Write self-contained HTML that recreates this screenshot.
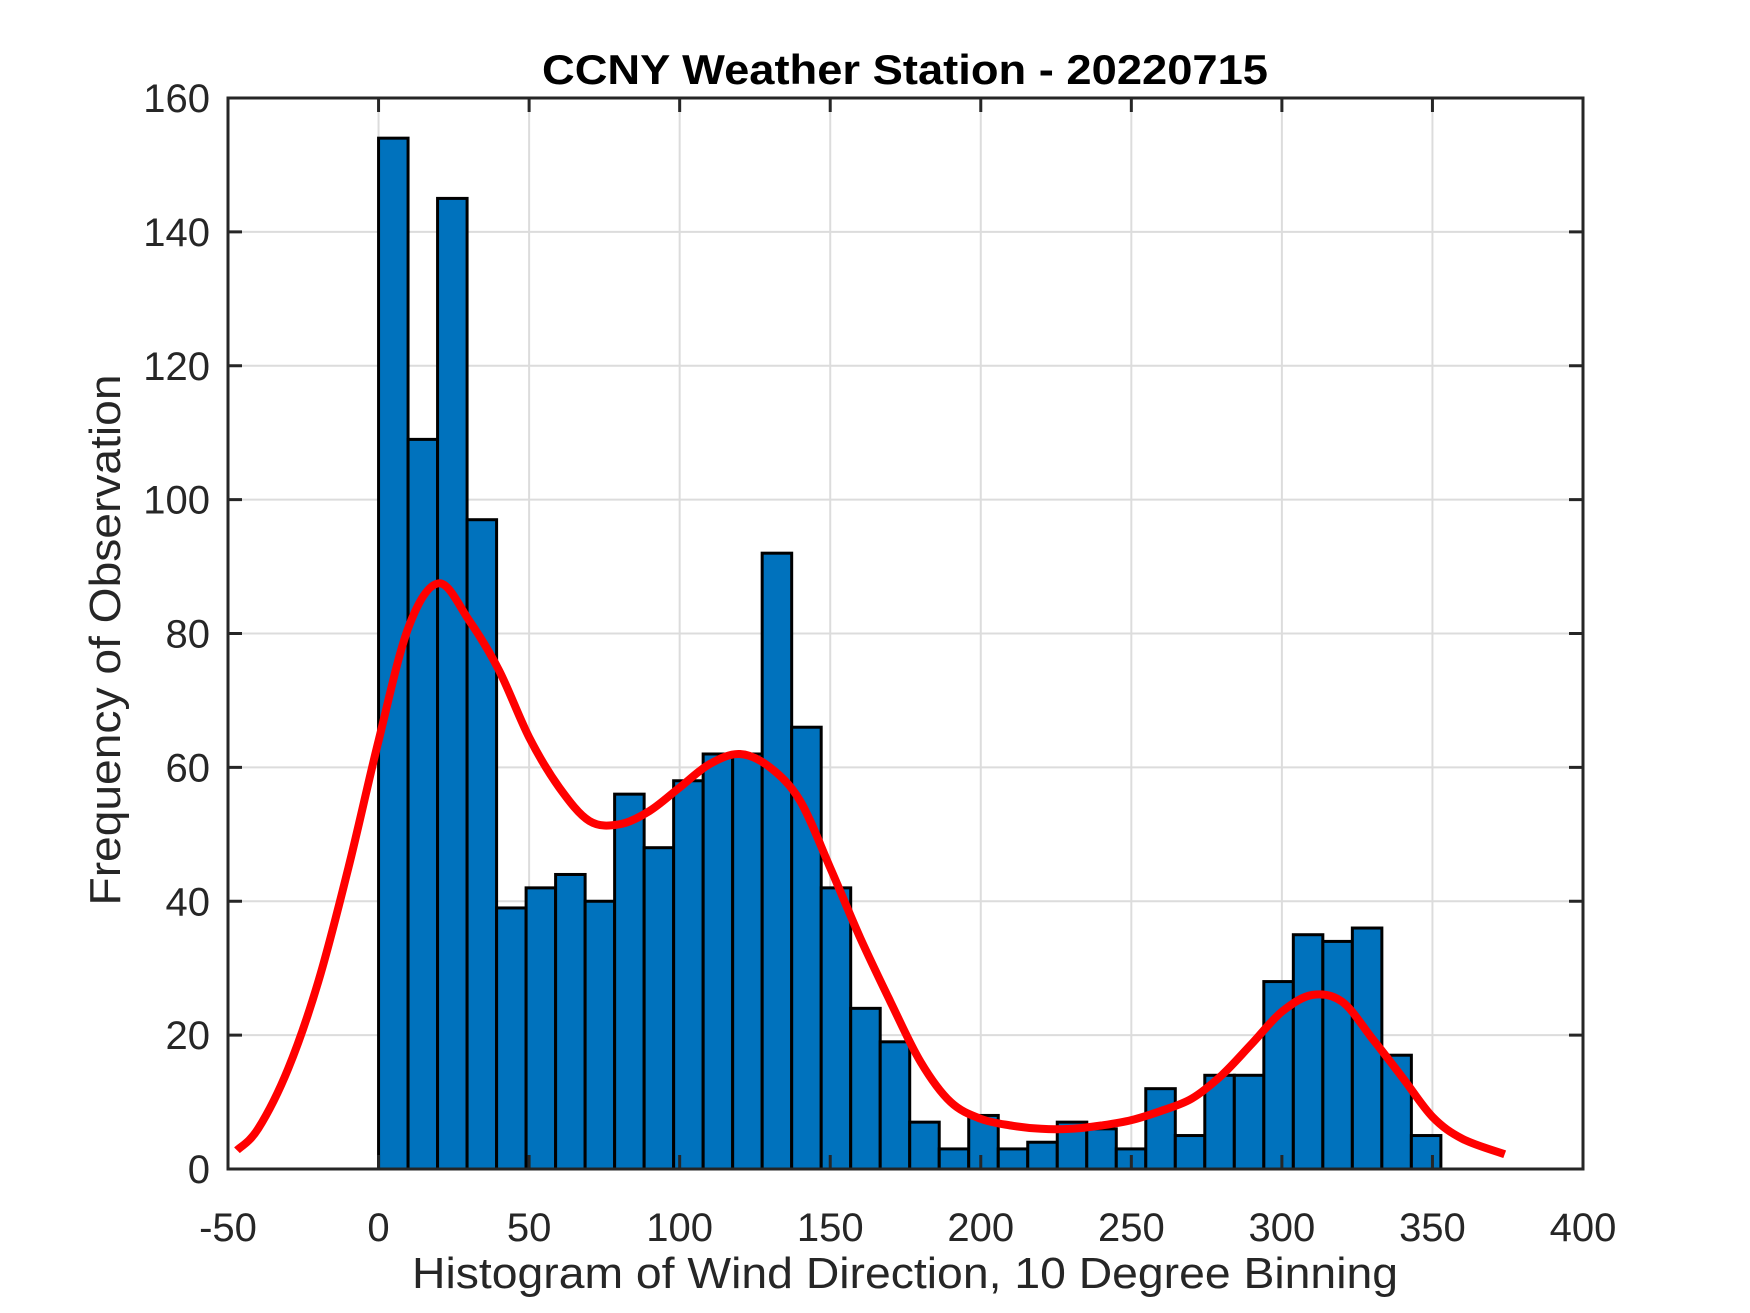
<!DOCTYPE html>
<html><head><meta charset="utf-8"><style>
html,body{margin:0;padding:0;background:#fff;}
svg{display:block;font-family:"Liberation Sans",Arial,sans-serif;}
</style></head><body>
<svg id="chart" width="1750" height="1313" viewBox="0 0 1750 1313" xmlns="http://www.w3.org/2000/svg">
<rect x="0" y="0" width="1750" height="1313" fill="#fff"/>
<g id="grid"></g>
<g id="bars"></g>
<g id="curve"></g>
<g id="axes"></g>
<text x="905" y="84" text-anchor="middle" font-size="42" font-weight="bold" fill="#000" textLength="726" lengthAdjust="spacingAndGlyphs">CCNY Weather Station - 20220715</text>
<text x="905" y="1288" text-anchor="middle" font-size="44" fill="#262626" textLength="986" lengthAdjust="spacingAndGlyphs">Histogram of Wind Direction, 10 Degree Binning</text>
<text transform="translate(120,640) rotate(-90)" text-anchor="middle" font-size="44" fill="#262626" textLength="531" lengthAdjust="spacingAndGlyphs">Frequency of Observation</text>
</svg>
<script>
const binWidth = 9.8;
const counts = [154,109,145,97,39,42,44,40,56,48,58,62,62,92,66,42,24,19,7,3,8,3,4,7,6,3,12,5,14,14,28,35,34,36,17,5];
const curveX = [-47,-40,-30,-20,-10,0,10,20,30,40,50,60,70,80,90,100,110,120,130,140,150,160,170,180,190,200,210,220,230,240,250,260,270,280,290,300,310,320,330,340,350,360,374];
const curveY = [2.8,6,15,28,45,64,81,87.5,82,74.5,64.5,57,52,51.5,53.5,57,60.5,62,60,55,45,34.5,25,16,10,7.5,6.5,6,6,6.5,7.3,8.7,10.5,14,18.7,23.5,26,25,19.5,13.7,7.8,4.5,2.2];
const xTicks = [-50,0,50,100,150,200,250,300,350,400];
const yTicks = [0,20,40,60,80,100,120,140,160];

const L=228,R=1583,T=98,B=1169;
const xMin=-50,xMax=400,yMin=0,yMax=160;
const sx=v=>L+(v-xMin)/(xMax-xMin)*(R-L);
const sy=v=>B-(v-yMin)/(yMax-yMin)*(B-T);
const NS='http://www.w3.org/2000/svg';
function mk(tag,attrs,parent){const e=document.createElementNS(NS,tag);for(const k in attrs)e.setAttribute(k,attrs[k]);parent.appendChild(e);return e;}
const grid=document.getElementById('grid'),bars=document.getElementById('bars'),curve=document.getElementById('curve'),axes=document.getElementById('axes');
xTicks.forEach(t=>{if(t>xMin&&t<xMax){const l=mk('line',{x1:sx(t),x2:sx(t),y1:T,y2:B,stroke:'#dcdcdc','stroke-width':2},grid);

}});
yTicks.forEach(t=>{if(t>yMin&&t<yMax){const l=mk('line',{x1:L,x2:R,y1:sy(t),y2:sy(t),stroke:'#dcdcdc','stroke-width':2},grid);

}});
counts.forEach((c,i)=>{const x0=sx(i*binWidth),x1=sx((i+1)*binWidth);
const r=mk('rect',{x:x0,y:sy(c),width:x1-x0,height:sy(0)-sy(c),fill:'#0072BD',stroke:'#000','stroke-width':3},bars);

});
const P=curveX.map((x,i)=>[sx(x),sy(curveY[i])]);
let d='M'+P[0][0].toFixed(1)+','+P[0][1].toFixed(1);
for(let i=0;i<P.length-1;i++){const p0=P[Math.max(0,i-1)],p1=P[i],p2=P[i+1],p3=P[Math.min(P.length-1,i+2)];
const c1=[p1[0]+(p2[0]-p0[0])/6,p1[1]+(p2[1]-p0[1])/6],c2=[p2[0]-(p3[0]-p1[0])/6,p2[1]-(p3[1]-p1[1])/6];
d+='C'+c1[0].toFixed(1)+','+c1[1].toFixed(1)+' '+c2[0].toFixed(1)+','+c2[1].toFixed(1)+' '+p2[0].toFixed(1)+','+p2[1].toFixed(1);}
const p=mk('path',{d:d,fill:'none',stroke:'#ff0000','stroke-width':8,'stroke-linejoin':'round'},curve);


const box=mk('rect',{x:L,y:T,width:R-L,height:B-T,fill:'none',stroke:'#262626','stroke-width':3},axes);


xTicks.forEach(t=>{const x=sx(t);
mk('line',{x1:x,x2:x,y1:B,y2:B-14,stroke:'#262626','stroke-width':3},axes);
mk('line',{x1:x,x2:x,y1:T,y2:T+14,stroke:'#262626','stroke-width':3},axes);
const tx=mk('text',{x:x,y:1241,'text-anchor':'middle','font-size':40,fill:'#262626'},axes);
tx.textContent=t;

});
yTicks.forEach(t=>{const y=sy(t);
mk('line',{x1:L,x2:L+14,y1:y,y2:y,stroke:'#262626','stroke-width':3},axes);
mk('line',{x1:R,x2:R-14,y1:y,y2:y,stroke:'#262626','stroke-width':3},axes);
const tx=mk('text',{x:210,y:y+14,'text-anchor':'end','font-size':40,fill:'#262626'},axes);
tx.textContent=t;

});
</script>
</body></html>
